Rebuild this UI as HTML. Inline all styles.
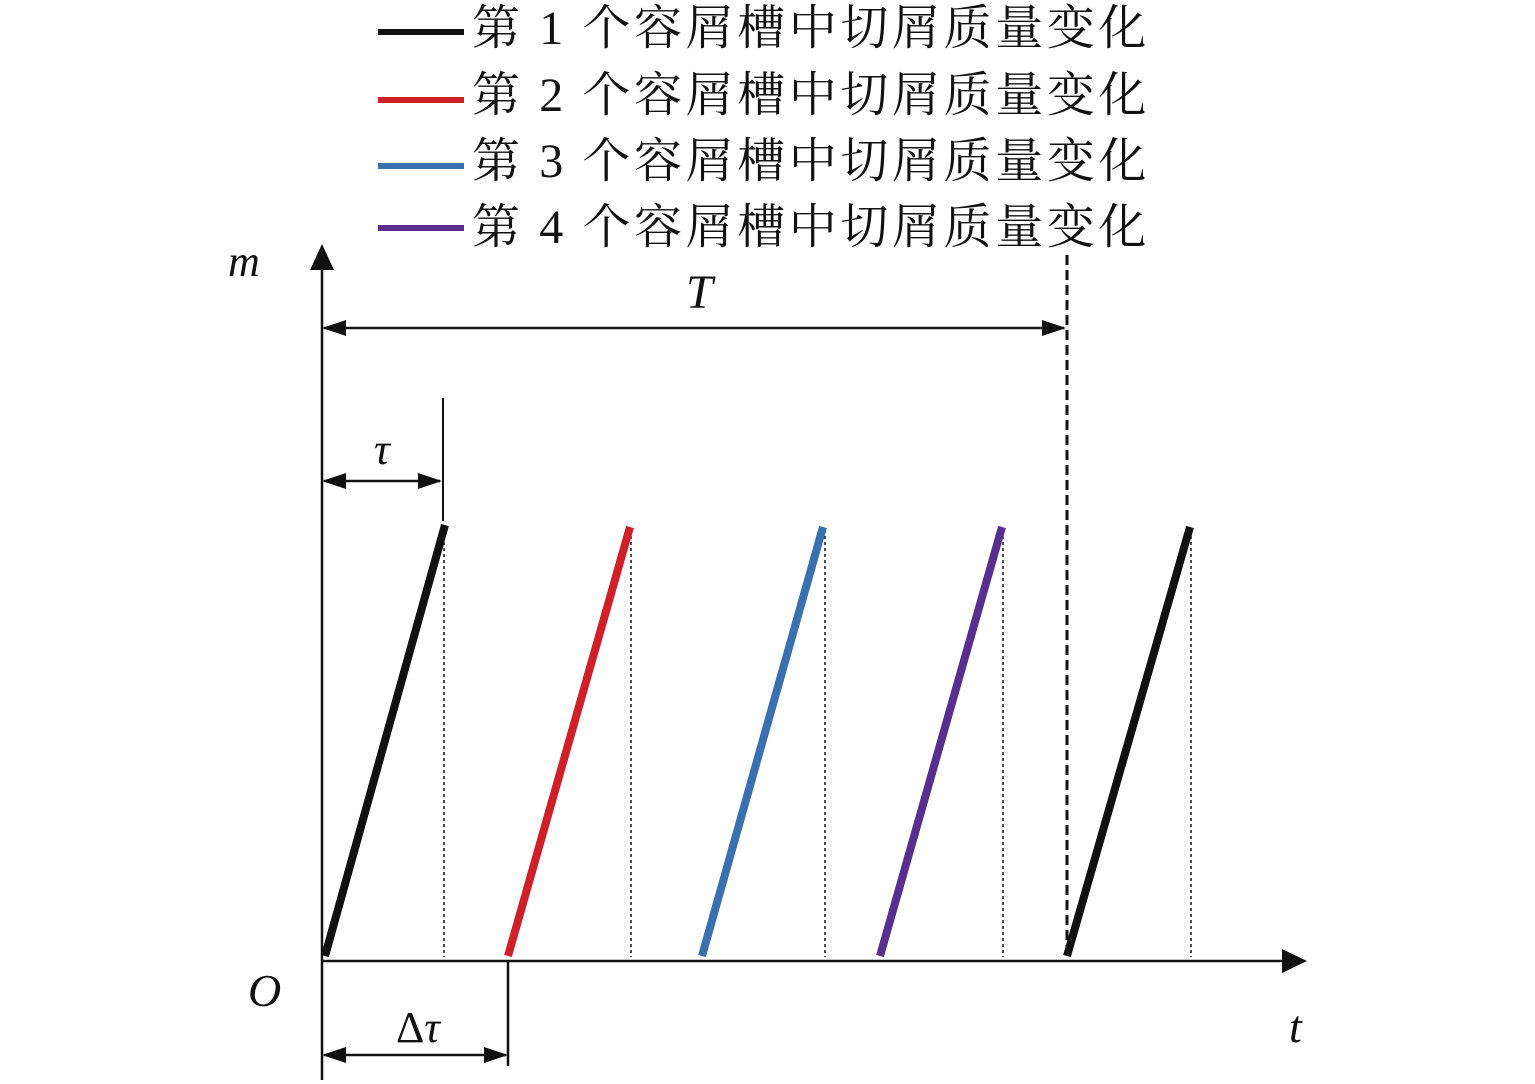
<!DOCTYPE html>
<html><head><meta charset="utf-8"><style>
html,body{margin:0;padding:0;background:#fff;}
svg{display:block;}
.cn{font-family:"Liberation Serif","Noto Serif CJK SC",serif;font-size:48px;fill:#111;letter-spacing:3.6px;}
.it{font-family:"Liberation Serif",serif;font-style:italic;fill:#111;}
</style></head><body>
<svg width="1535" height="1084" viewBox="0 0 1535 1084" xmlns="http://www.w3.org/2000/svg">
<!-- legend -->
<line x1="378" y1="32" x2="464" y2="32" stroke="#111" stroke-width="6"/>
<line x1="378" y1="100" x2="464" y2="100" stroke="#d02027" stroke-width="6"/>
<line x1="378" y1="166" x2="464" y2="166" stroke="#3a6fb0" stroke-width="6"/>
<line x1="378" y1="228" x2="464" y2="228" stroke="#5a2e8f" stroke-width="6"/>
<text class="cn" x="472" y="44">第 <tspan font-family="Liberation Serif">1</tspan> 个容屑槽中切屑质量变化</text>
<text class="cn" x="472" y="111">第 <tspan font-family="Liberation Serif">2</tspan> 个容屑槽中切屑质量变化</text>
<text class="cn" x="472" y="177">第 <tspan font-family="Liberation Serif">3</tspan> 个容屑槽中切屑质量变化</text>
<text class="cn" x="472" y="243">第 <tspan font-family="Liberation Serif">4</tspan> 个容屑槽中切屑质量变化</text>
<!-- axes -->
<line x1="322" y1="265" x2="322" y2="1080" stroke="#111" stroke-width="2.5"/>
<polygon points="322,244 310,270 334,270" fill="#111"/>
<line x1="322" y1="961" x2="1285" y2="961" stroke="#111" stroke-width="2.5"/>
<polygon points="1307,961 1282,949 1282,973" fill="#111"/>
<text class="it" x="228" y="276" font-size="44">m</text>
<text class="it" x="248" y="1006" font-size="46">O</text>
<text class="it" x="1289" y="1042" font-size="46">t</text>
<!-- T -->
<text class="it" x="686" y="308" font-size="48">T</text>
<line x1="324" y1="328" x2="1064" y2="328" stroke="#111" stroke-width="2.5"/>
<polygon points="322,328 346,320 346,336" fill="#111"/>
<polygon points="1066,328 1042,320 1042,336" fill="#111"/>
<line x1="1067" y1="255" x2="1067" y2="958" stroke="#111" stroke-width="3" stroke-dasharray="10,5"/>
<!-- tau -->
<text class="it" x="374" y="464" font-size="44">τ</text>
<line x1="443" y1="398" x2="443" y2="521" stroke="#111" stroke-width="2"/>
<line x1="324" y1="481" x2="440" y2="481" stroke="#111" stroke-width="2.5"/>
<polygon points="322,481 346,473 346,489" fill="#111"/>
<polygon points="442,481 418,473 418,489" fill="#111"/>
<!-- delta tau -->
<text class="it" x="396" y="1042" font-size="44"><tspan font-style="normal">Δ</tspan>τ</text>
<line x1="508" y1="961" x2="508" y2="1066" stroke="#111" stroke-width="2.5"/>
<line x1="324" y1="1055" x2="506" y2="1055" stroke="#111" stroke-width="2.5"/>
<polygon points="322,1055 346,1047 346,1063" fill="#111"/>
<polygon points="508,1055 484,1047 484,1063" fill="#111"/>
<!-- dotted verticals -->
<g stroke="#111" stroke-width="1.5" stroke-dasharray="3,3">
<line x1="444" y1="530" x2="444" y2="957"/>
<line x1="631" y1="530" x2="631" y2="957"/>
<line x1="825" y1="530" x2="825" y2="957"/>
<line x1="1003" y1="530" x2="1003" y2="957"/>
<line x1="1191" y1="530" x2="1191" y2="957"/>
</g>
<!-- series -->
<g stroke-width="8" stroke-linecap="butt">
<line x1="325" y1="956" x2="445" y2="525" stroke="#111"/>
<line x1="508" y1="956" x2="630" y2="527" stroke="#d02027"/>
<line x1="702" y1="956" x2="823" y2="527" stroke="#3a6fb0"/>
<line x1="880" y1="956" x2="1002" y2="527" stroke="#5a2e8f"/>
<line x1="1067" y1="956" x2="1190" y2="527" stroke="#111"/>
</g>
</svg>
</body></html>
